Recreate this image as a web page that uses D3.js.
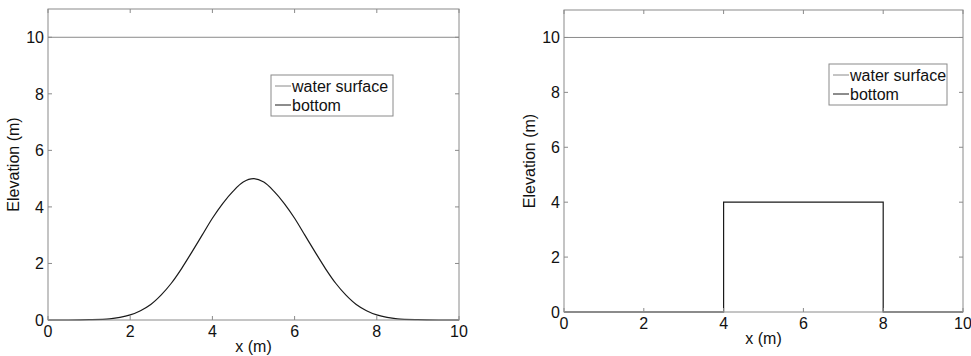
<!DOCTYPE html>
<html>
<head>
<meta charset="utf-8">
<script src="https://cdn.jsdelivr.net/npm/d3@7"></script>
<style>
  body { margin: 0; background: #fff; }
  text { font-family: "Liberation Sans", Arial, sans-serif; fill: #111; }
</style>
</head>
<body>
<div id="chart"></div>
<script>
// bump profile
var bumpX = [0, 0.5, 1, 1.5, 1.75, 2, 2.25, 2.5, 2.75, 3, 3.25, 3.5, 3.75, 4, 4.25, 4.5, 4.75, 5,
  5.25, 5.5, 5.75, 6, 6.25, 6.5, 6.75, 7, 7.25, 7.5, 7.75, 8, 8.25, 8.5, 9, 9.5, 10];
var bumpY = [0, 0, 0.01, 0.04, 0.09, 0.18, 0.33, 0.55, 0.88, 1.3, 1.82, 2.4, 3.0, 3.6, 4.12, 4.55, 4.88, 5,
  4.88, 4.55, 4.12, 3.6, 3.0, 2.4, 1.82, 1.3, 0.88, 0.55, 0.33, 0.18, 0.09, 0.04, 0.01, 0, 0];
// step profile, right panel
var stepX = [0, 4, 4, 8, 8, 10];
var stepY = [0, 0, 4, 4, 0, 0];
var waterX = [0, 10];
var waterY = [10, 10];
var xTicks = [0, 2, 4, 6, 8, 10];
var yTicks = [0, 2, 4, 6, 8, 10];
var legendLabels = ["water surface", "bottom"];

var width = 971, height = 356;
var color_box = "#8a8a8a";
var color_water = "#8a8a8a";
var color_bottom = "#1a1a1a";
var fontsize = 16;

var svg = d3.select("#chart").append("svg")
  .attr("width", width)
  .attr("height", height);

function panel(opt) {
  var x = d3.scaleLinear().domain([0, 10]).range([opt.left, opt.right]);
  var y = d3.scaleLinear().domain([0, 11]).range([opt.bottom, opt.top]);
  var g = svg.append("g");

  var line = d3.line()
    .x(function(d) { return x(d[0]); })
    .y(function(d) { return y(d[1]); });

  //water surface
  g.append("path")
    .attr("d", line(d3.zip(waterX, waterY)))
    .style("fill", "none")
    .style("stroke", color_water)
    .style("stroke-width", 1);

  //bottom
  g.append("path")
    .attr("d", line.curve(opt.curve)(d3.zip(opt.xs, opt.ys)))
    .style("fill", "none")
    .style("stroke", color_bottom)
    .style("stroke-width", 1.2);

  //box
  g.append("rect")
    .attr("x", opt.left)
    .attr("y", opt.top)
    .attr("width", opt.right - opt.left)
    .attr("height", opt.bottom - opt.top)
    .style("fill", "none")
    .style("stroke", color_box)
    .style("stroke-width", 1);

  //inward ticks, all four sides
  var tl = 4;
  xTicks.forEach(function(t) {
    g.append("line").attr("x1", x(t)).attr("x2", x(t))
      .attr("y1", opt.bottom).attr("y2", opt.bottom - tl)
      .style("stroke", color_box);
    g.append("line").attr("x1", x(t)).attr("x2", x(t))
      .attr("y1", opt.top).attr("y2", opt.top + tl)
      .style("stroke", color_box);
    g.append("text")
      .attr("x", x(t))
      .attr("y", opt.bottom + 17)
      .attr("text-anchor", "middle")
      .style("font-size", fontsize)
      .text(t);
  });
  yTicks.forEach(function(t) {
    g.append("line").attr("x1", opt.left).attr("x2", opt.left + tl)
      .attr("y1", y(t)).attr("y2", y(t))
      .style("stroke", color_box);
    g.append("line").attr("x1", opt.right).attr("x2", opt.right - tl)
      .attr("y1", y(t)).attr("y2", y(t))
      .style("stroke", color_box);
    g.append("text")
      .attr("x", opt.left - 4)
      .attr("y", y(t) + 6)
      .attr("text-anchor", "end")
      .style("font-size", fontsize)
      .text(t);
  });

  //axis titles
  g.append("text")
    .attr("x", (opt.left + opt.right) / 2)
    .attr("y", opt.bottom + 32)
    .attr("text-anchor", "middle")
    .style("font-size", fontsize)
    .text("x (m)");
  g.append("text")
    .attr("transform", "translate(" + (opt.left - 29) + "," + ((opt.top + opt.bottom) / 2) + ") rotate(-90)")
    .attr("text-anchor", "middle")
    .style("font-size", fontsize)
    .text("Elevation (m)");

  //legend
  var lg = g.append("g").attr("transform", "translate(" + opt.legX + "," + opt.legY + ")");
  lg.append("rect")
    .attr("width", opt.legW)
    .attr("height", 41)
    .style("fill", "#fff")
    .style("stroke", color_box);
  legendLabels.forEach(function(lab, i) {
    var ly = 11 + i * 19;
    lg.append("line")
      .attr("x1", 4).attr("x2", 20)
      .attr("y1", ly).attr("y2", ly)
      .style("stroke", i == 0 ? color_water : color_bottom);
    lg.append("text")
      .attr("x", 21)
      .attr("y", ly + 6)
      .style("font-size", fontsize)
      .text(lab);
  });
}

panel({left: 48, right: 459, top: 9, bottom: 320, xs: bumpX, ys: bumpY,
  curve: d3.curveCatmullRom, legX: 271, legY: 75, legW: 122});
panel({left: 564, right: 963, top: 10, bottom: 312, xs: stepX, ys: stepY,
  curve: d3.curveLinear, legX: 829, legY: 64, legW: 118});
</script>
</body>
</html>
